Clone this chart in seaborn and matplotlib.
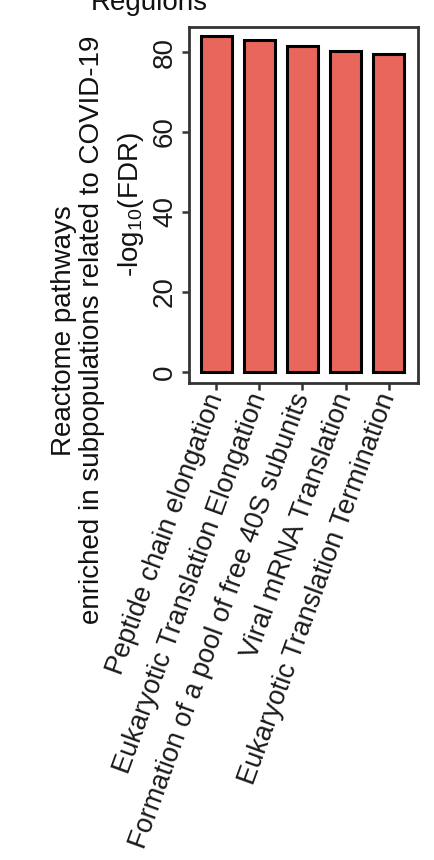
import pandas as pd
import seaborn as sns
import matplotlib.pyplot as plt

# Reactome pathways and their enrichment
pathways = ['Peptide chain elongation',
            'Eukaryotic Translation Elongation',
            'Formation of a pool of free 40S subunits',
            'Viral mRNA Translation',
            'Eukaryotic Translation Termination']
neg_log_fdr = [84.0, 83.1, 81.6, 80.3, 79.5]
y_ticks = [0, 20, 40, 60, 80]

df = pd.DataFrame({'pathway': pathways, 'score': neg_log_fdr})

sns.set_theme(style='white')
plt.rcParams['font.family'] = ['Liberation Sans', 'DejaVu Sans']
plt.rcParams['mathtext.fontset'] = 'custom'
plt.rcParams['mathtext.rm'] = 'Liberation Sans'
plt.rcParams['mathtext.it'] = 'Liberation Sans'

fs = 20
fig = plt.figure(figsize=(4.35, 8.6), dpi=100)
ax = fig.add_axes([0.4345, 0.5547, 0.5265, 0.4139])

sns.barplot(data=df, x='pathway', y='score', color='#E8665B', saturation=1,
            width=0.72, edgecolor='black', linewidth=2.2, ax=ax)

ax.set_xlim(-0.63, 4.68)
ax.set_ylim(-2.75, 86.25)
ax.set_yticks(y_ticks)
ax.set_yticklabels([str(t) for t in y_ticks], rotation=90, va='center',
                   fontsize=fs, color='#1a1a1a')
ax.set_xticks(range(len(pathways)))
ax.set_xticklabels(pathways, rotation=70, ha='right', va='center',
                   rotation_mode='anchor', fontsize=19.5, color='#1a1a1a')
ax.tick_params(axis='both', length=5, width=1.8, color='#333333',
               direction='out', bottom=True, left=True)
ax.tick_params(axis='x', pad=3)
ax.tick_params(axis='y', pad=3)

for s in ax.spines.values():
    s.set_visible(True)
    s.set_color('#333333')
    s.set_linewidth(2)

ax.set_xlabel('')
ax.set_ylabel('-log$_{10}$(FDR)', fontsize=fs, color='#111111', labelpad=4)

fig.text(0.18, 0.616, 'Reactome pathways\nenriched in subpopulations related to COVID-19',
         rotation=90, ha='center', va='center', fontsize=fs, color='#111111',
         linespacing=1.1)
fig.text(0.343, 1 - 10 / 860, 'Regulons', ha='center', va='baseline',
         fontsize=fs, color='#111111')

fig.savefig('out.png', dpi=100)
